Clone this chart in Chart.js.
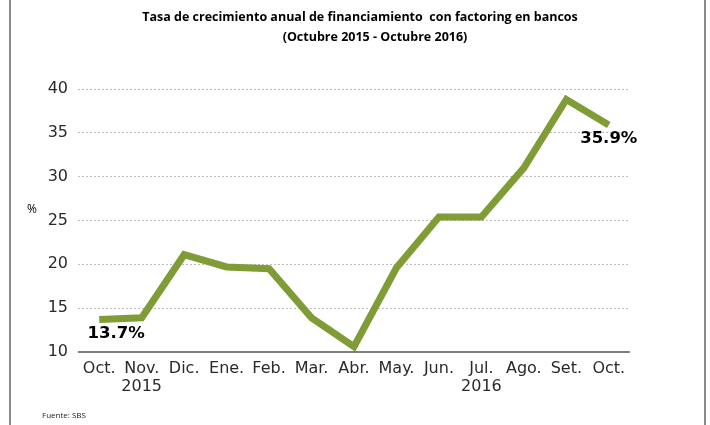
<!DOCTYPE html>
<html>
<head>
<meta charset="utf-8">
<script src="https://cdn.jsdelivr.net/npm/chart.js@4"></script>
<style>
html,body{margin:0;padding:0;background:#fff;}
#wrap{position:relative;width:710px;height:425px;}
.bl{position:absolute;top:0;width:2px;height:425px;background:#8a8a8a;}
</style>
</head>
<body>
<div id="wrap">
<canvas id="c" width="710" height="425"></canvas>
<div class="bl" style="left:9px"></div>
<div class="bl" style="left:704px"></div>
</div>
<script>
const categories = [["Oct."],["Nov.","2015"],["Dic."],["Ene."],["Feb."],["Mar."],["Abr."],["May."],["Jun."],["Jul.","2016"],["Ago."],["Set."],["Oct."]];
const values = [13.7, 13.9, 21.1, 19.7, 19.5, 13.9, 10.6, 19.6, 25.4, 25.4, 31.0, 38.8, 35.9];
const yTicks = [10, 15, 20, 25, 30, 35, 40];
const titleLines = ["Tasa de crecimiento anual de financiamiento  con factoring en bancos", "(Octubre 2015 - Octubre 2016)"];
const pointLabels = [{index: 0, text: "13.7%", dx: 17, dy: 14}, {index: 12, text: "35.9%", dx: 0, dy: 14}];
const axisTitle = "%";
const sourceText = "Fuente: SBS";

const extras = {
  id: 'extras',
  afterDraw(chart) {
    const ctx = chart.ctx;
    const xs = chart.scales.x, ys = chart.scales.y;
    ctx.save();
    ctx.fillStyle = '#000';
    ctx.textAlign = 'center';
    ctx.textBaseline = 'middle';
    ctx.font = 'bold 12.5px "Open Sans"';
    ctx.fillText(titleLines[0], 360, 17);
    ctx.font = 'bold 12.5px "Open Sans"';
    ctx.fillText(titleLines[1], 375, 37);
    ctx.font = '12px "Open Sans"';
    ctx.fillText(axisTitle, 32, 210);
    ctx.textAlign = 'left';
    ctx.font = '8px "Open Sans"';
    ctx.fillStyle = '#222';
    ctx.fillText(sourceText, 42, 416);
    ctx.strokeStyle = '#555';
    ctx.lineWidth = 1.5;
    ctx.beginPath();
    ctx.moveTo(chart.chartArea.left, ys.getPixelForValue(10));
    ctx.lineTo(chart.chartArea.right, ys.getPixelForValue(10));
    ctx.stroke();
    ctx.fillStyle = '#000';
    ctx.textAlign = 'center';
    ctx.font = 'bold 16.5px "DejaVu Sans"';
    pointLabels.forEach(p => {
      const x = xs.getPixelForValue(p.index);
      const y = ys.getPixelForValue(values[p.index]);
      ctx.fillText(p.text, x + p.dx, y + p.dy);
    });
    ctx.restore();
  }
};

new Chart(document.getElementById('c'), {
  type: 'line',
  data: {
    labels: categories,
    datasets: [{
      data: values,
      borderColor: '#7f9c37',
      borderWidth: 7,
      pointRadius: 0,
      tension: 0,
      fill: false,
      borderJoinStyle: 'miter',
      borderCapStyle: 'butt'
    }]
  },
  plugins: [extras],
  options: {
    responsive: false,
    animation: false,
    layout: {padding: {left: 28, right: 80, top: 89, bottom: 0}},
    plugins: {legend: {display: false}, tooltip: {enabled: false}, title: {display: false}},
    scales: {
      x: {
        offset: true,
        grid: {display: false, drawTicks: false},
        border: {display: false},
        ticks: {color: '#2a2a2a', font: {family: 'DejaVu Sans', size: 16, lineHeight: 1.1}, padding: 8, maxRotation: 0, autoSkip: false},
        afterFit(s) { s.height = 73; }
      },
      y: {
        min: 10, max: 40,
        afterBuildTicks(s) { s.ticks = yTicks.map(v => ({value: v})); },
        grid: {
          color: ctx => ctx.tick && ctx.tick.value === 10 ? 'rgba(0,0,0,0)' : '#bdbdbd',
          lineWidth: 1,
          drawTicks: false
        },
        border: {display: false, dash: [2, 2]},
        ticks: {color: '#2a2a2a', font: {family: 'DejaVu Sans', size: 16}, padding: 10},
        afterFit(s) { s.width = 50; }
      }
    }
  }
});
</script>
</body>
</html>
